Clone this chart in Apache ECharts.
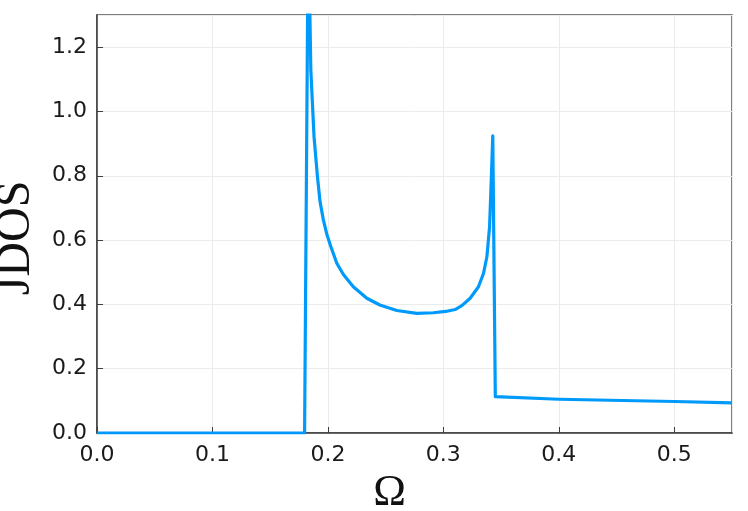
<!DOCTYPE html>
<html>

<head>
    <meta charset="UTF-8">
    <style type="text/css">
        body {
            margin: 0;
            padding: 0;
            overflow: hidden;
            background: #fff;
        }

        #chart {
            width: 748px;
            height: 511px;
        }
    </style>
</head>

<body>
    <div id="chart"></div>
    <script src="https://cdn.jsdelivr.net/npm/echarts@6/dist/echarts.min.js"></script>
    <script>
        // frequency Omega and JDOS
        let omega = [0, 0.1798, 0.1830, 0.1852, 0.1880, 0.1909, 0.1932, 0.1961, 0.1990, 0.2025,
            0.2077, 0.2134, 0.2220, 0.2337, 0.2450, 0.2597, 0.2770, 0.2914, 0.3020, 0.3102,
            0.3160, 0.3232, 0.3304, 0.3348, 0.3377, 0.3400, 0.3414, 0.3428, 0.3450, 0.40, 0.50, 0.55];
        let jdos = [0, 0, 1.6, 1.129, 0.920, 0.799, 0.719, 0.662, 0.619, 0.580,
            0.528, 0.493, 0.455, 0.419, 0.398, 0.381, 0.372, 0.374, 0.378, 0.384,
            0.396, 0.419, 0.455, 0.497, 0.548, 0.640, 0.777, 0.924, 0.113, 0.105, 0.098, 0.094];

        let xTicks = { min: 0, max: 0.55, step: 0.1 };
        let yTicks = { min: 0, max: 1.3, step: 0.2 };

        var myChart = echarts.init(document.getElementById('chart'));

        let axisColor = '#3c3c3c';
        let labelFont = { fontFamily: 'DejaVu Sans', fontSize: 22, color: '#1a1a1a' };

        let option = {
            animation: false,
            grid: {
                left: 97, right: 16, top: 15, bottom: 78,
                outerBoundsMode: 'none',
                containLabel: false,
                show: true,
                borderColor: '#555',
                borderWidth: 1.5
            },
            xAxis: {
                type: 'value',
                min: xTicks.min,
                max: xTicks.max,
                interval: xTicks.step,
                name: 'Ω',
                nameLocation: 'middle',
                nameGap: 38,
                nameTextStyle: { fontFamily: 'Liberation Serif', fontSize: 44, color: '#111', padding: [0, 50, 0, 0] },
                axisLine: { show: true, lineStyle: { color: axisColor, width: 1.5 } },
                axisTick: { show: true, inside: true, length: 6, lineStyle: { color: axisColor } },
                axisLabel: Object.assign({ margin: 11, showMaxLabel: false, formatter: v => v.toFixed(1) }, labelFont),
                splitLine: { show: true, lineStyle: { color: '#ebebeb', width: 1 } }
            },
            yAxis: {
                type: 'value',
                min: yTicks.min,
                max: yTicks.max,
                interval: yTicks.step,
                name: 'JDOS',
                nameLocation: 'middle',
                nameGap: 57,
                nameTextStyle: { fontFamily: 'Liberation Serif', fontSize: 48, color: '#111', padding: [0, 28, 0, 0] },
                axisLine: { show: true, lineStyle: { color: axisColor, width: 1.5 } },
                axisTick: { show: true, inside: true, length: 6, lineStyle: { color: axisColor } },
                axisLabel: Object.assign({ margin: 10, showMaxLabel: false, formatter: v => v.toFixed(1) }, labelFont),
                splitLine: { show: true, lineStyle: { color: '#ebebeb', width: 1 } }
            },
            series: [
                {
                    type: 'line',
                    data: omega.map((x, i) => [x, jdos[i]]),
                    showSymbol: false,
                    clip: true,
                    lineStyle: { color: '#009AFA', width: 3.2, join: 'round' },
                    itemStyle: { color: '#009AFA' }
                }
            ]
        };
        myChart.setOption(option);
    </script>
</body>

</html>
